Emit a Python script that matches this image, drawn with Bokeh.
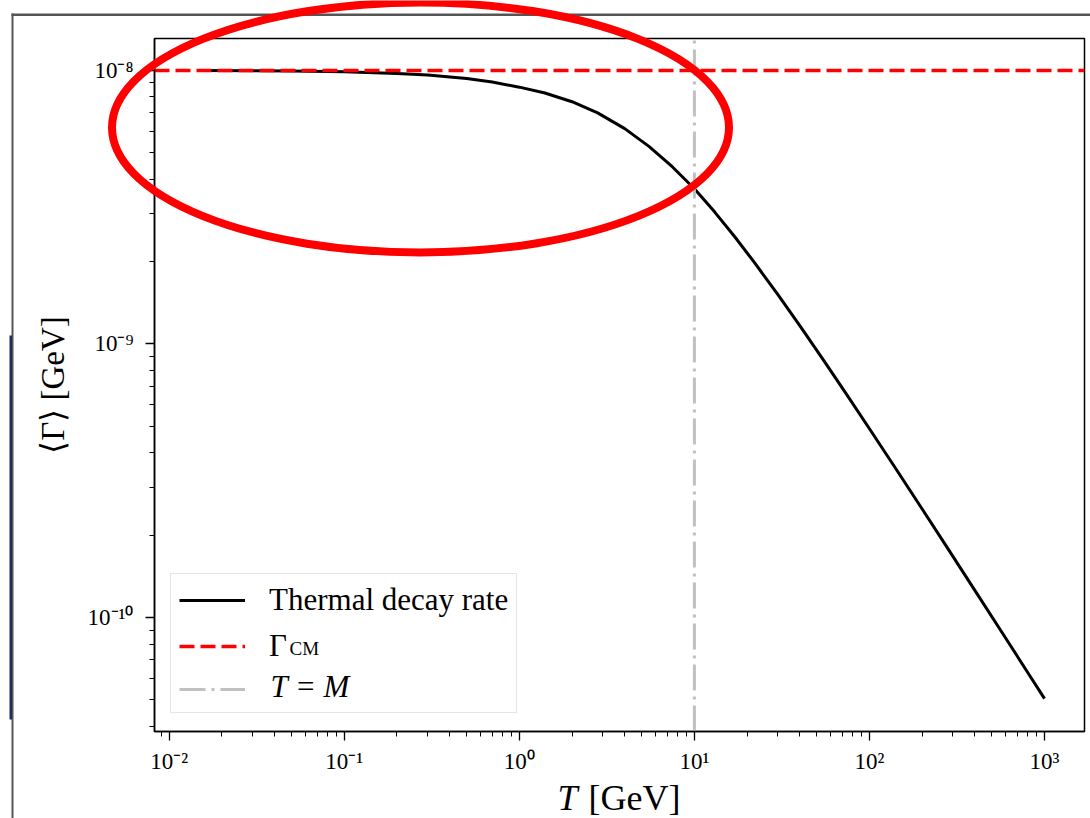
from bokeh.plotting import figure
from bokeh.models import (Legend, LegendItem, CustomJSTickFormatter, LogTicker,
                          Range1d, GridBox)
from bokeh.core.properties import value
from bokeh.embed import file_html
from bokeh.resources import INLINE

# ---- data ----
T_values = [0.015, 0.05, 0.1, 0.2, 0.3, 0.5, 0.7, 1.0, 1.4, 2.0, 2.8, 4.0,
            5.5, 7.5, 10, 13, 17, 22, 30, 40, 55, 75, 100, 140, 200, 280,
            400, 560, 800, 1000]
rate_values = [1.0e-8, 9.963e-9, 9.895e-9, 9.759e-9, 9.62e-9, 9.346e-9,
               9.072e-9, 8.69e-9, 8.27e-9, 7.687e-9, 6.997e-9, 6.131e-9,
               5.279e-9, 4.438e-9, 3.694e-9, 3.049e-9, 2.467e-9, 1.987e-9,
               1.514e-9, 1.167e-9, 8.68e-10, 6.465e-10, 4.898e-10, 3.535e-10,
               2.493e-10, 1.789e-10, 1.257e-10, 9.0e-11, 6.31e-11, 5.05e-11]
gamma_cm = 1e-8
mass_M = 10.0
x_range_lim = (0.00824, 1692.0)
y_range_lim = (3.83e-11, 1.309e-8)

# frame position in the page (pixels)
FL, FR, FT, FB = 154, 1084, 38, 731
W, H = 1090, 818

SERIF = "Liberation Serif"

p = figure(width=W, height=H, x_axis_type="log", y_axis_type="log",
           x_range=Range1d(*x_range_lim), y_range=Range1d(*y_range_lim),
           output_backend="svg", toolbar_location=None,
           min_border_left=FL, min_border_right=W - FR,
           min_border_top=FT, min_border_bottom=H - FB)
p.frame_align = False
p.grid.visible = False
p.background_fill_color = "white"
p.border_fill_color = "white"
p.outline_line_color = "black"
p.outline_line_width = 1.5

fmt = CustomJSTickFormatter(code="""
const sup = {"-":"\u207b","0":"\u2070","1":"\u00b9","2":"\u00b2","3":"\u00b3","4":"\u2074",
             "5":"\u2075","6":"\u2076","7":"\u2077","8":"\u2078","9":"\u2079"};
const e = Math.round(Math.log10(tick));
return "10" + String(e).split("").map(c => sup[c]).join("");
""")

for ax in (p.xaxis[0], p.yaxis[0]):
    ax.ticker = LogTicker(num_minor_ticks=10)
    ax.formatter = fmt
    ax.axis_line_color = "black"
    ax.axis_line_width = 1.5
    ax.major_tick_line_color = "black"
    ax.minor_tick_line_color = "black"
    ax.major_tick_line_width = 1.3
    ax.minor_tick_line_width = 1.0
    ax.major_tick_in = 0
    ax.minor_tick_in = 0
    ax.major_tick_out = 9
    ax.minor_tick_out = 5
    ax.major_label_text_font = SERIF
    ax.major_label_text_font_size = "23px"
    ax.major_label_text_color = "black"

p.xaxis.major_label_standoff = 8
p.yaxis.major_label_standoff = 12

p.yaxis.axis_label = "\u27e8\u0393\u27e9 [GeV]"
p.yaxis.axis_label_text_font = SERIF
p.yaxis.axis_label_text_font_size = "33px"
p.yaxis.axis_label_text_font_style = "normal"
p.yaxis.axis_label_text_color = "black"
p.yaxis.axis_label_standoff = 14

# ---- curves ----
r_rate = p.line(T_values, rate_values, line_color="black", line_width=3)
r_cm = p.line([x_range_lim[0], x_range_lim[1]], [gamma_cm, gamma_cm],
              line_color="#ff0000", line_width=3.5, line_dash="15 6")
r_tm = p.line([mass_M, mass_M], [y_range_lim[0], y_range_lim[1]],
              line_color="#c0c0c0", line_width=3, line_dash="26 6 3 6")

legend = Legend(items=[LegendItem(label="Thermal decay rate", renderers=[r_rate]),
                       LegendItem(label="\u0393", renderers=[r_cm]),
                       LegendItem(label=" ", renderers=[r_tm])],
                location=(16, 18), margin=0, padding=8, spacing=10,
                glyph_width=66, glyph_height=30, label_height=30, label_standoff=24,
                label_text_font=SERIF, label_text_font_size="31px",
                label_text_color="black",
                border_line_color="#cccccc", border_line_width=1.5,
                background_fill_color="white", background_fill_alpha=0.8)
p.add_layout(legend, "center")

# ---- transparent overlay in page pixels: axis title pieces, legend sub-texts,
#      screenshot framing and the red highlight ellipse ----
ov = figure(width=W, height=H, x_range=Range1d(0, W), y_range=Range1d(H, 0),
            output_backend="svg", toolbar_location=None, min_border=0,
            x_axis_location=None, y_axis_location=None)
ov.frame_align = False
ov.grid.visible = False
ov.outline_line_color = None
ov.background_fill_color = None
ov.border_fill_color = None

ov.text(x=[557], y=[797], text=["T"], text_font=value(SERIF),
        text_font_size="36px", text_font_style="italic", text_color="black",
        text_baseline="alphabetic", text_align="left")
ov.text(x=[588], y=[797], text=["[GeV]"], text_font=value(SERIF),
        text_font_size="36px", text_color="black",
        text_baseline="alphabetic", text_align="left")
ov.text(x=[289], y=[648], text=["CM"], text_font=value(SERIF),
        text_font_size="19px", text_color="black",
        text_baseline="alphabetic", text_align="left")
ov.text(x=[270], y=[686], text=["T = M"], text_font=value(SERIF),
        text_font_size="31px", text_font_style="italic", text_color="black",
        text_baseline="alphabetic", text_align="left")

# the overlay renders about 7 px higher than its coordinates; compensate
DY = 7
ov.quad(left=[11, 11], right=[W, 13], top=[6 + DY, 6 + DY],
        bottom=[8.5 + DY, H + DY],
        fill_color="#555555", line_color=None)
ov.quad(left=[9], right=[11.5], top=[328 + DY], bottom=[712 + DY],
        fill_color="#1b2f5a", line_color=None)
ov.ellipse(x=[420], y=[121 + 6], width=[617], height=[250], fill_color=None,
           line_color="#ff0000", line_width=8)

layout = GridBox(children=[(p, 0, 0), (ov, 0, 0)])

open("out.html", "w").write(file_html(layout, INLINE))
